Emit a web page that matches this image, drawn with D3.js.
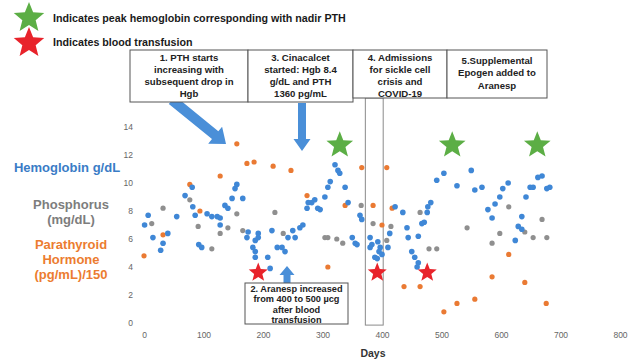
<!DOCTYPE html>
<html><head><meta charset="utf-8">
<script src="https://cdn.jsdelivr.net/npm/d3@7"></script>
<style>body{margin:0;background:#fff}svg{display:block;font-family:"Liberation Sans",Arial,sans-serif}</style>
</head><body><svg id="c" width="630" height="359"></svg>
<script>
// ---- data ----
const xTicks = [0,100,200,300,400,500,600,700,800];
const yTicks = [0,2,4,6,8,10,12,14];
const hgbDays = [1,7,15,28,32,40,55,69,81,82,86,92,97,106,114,123,128,128,136,141,148,153,156,166,175,173,192,187,183,187,187,192,208,212,215,224,232,237,242,254,250,262,267,274,276,282,287,292,296,304,309,313,321,326,329,338,343,350,355,358,363,366,380,383,380,393,397,395,388,392,400,410,413,422,435,442,444,450,455,461,459,461,467,471,476,477,482,492,504,526,550,556,568,578,585,590,598,603,612,624,629,635,635,642,649,654,662,669,677,682];
const hgbVals = [7.0,7.7,6.1,5.2,5.7,6.4,7.6,9.1,9.7,8.3,7.7,5.6,5.4,7.8,7.6,7.6,7.5,7.0,8.4,8.2,8.9,9.6,9.9,8.9,6.5,6.1,6.4,5.9,5.4,5.1,4.7,6.1,4.7,3.9,6.6,5.4,5.4,5.1,6.1,6.1,6.6,6.8,7.0,8.2,8.6,8.6,8.8,8.2,8.1,9.0,9.7,10.1,11.3,10.9,10.7,9.7,8.6,6.1,5.7,5.6,7.7,7.4,6.1,5.6,5.4,5.8,5.4,5.1,4.7,4.6,4.9,5.4,6.4,8.3,7.9,6.8,6.1,5.1,4.7,4.3,4.0,6.2,7.1,7.2,7.9,8.3,8.6,10.2,10.7,9.8,10.9,9.5,9.7,8.1,7.5,8.5,9.0,9.6,10.0,5.9,6.9,6.7,7.6,9.0,9.7,9.7,10.4,10.5,9.6,9.7];
const phosDays = [13,32,77,91,114,128,141,156,166,220,234,304,309,324,334,365,385,408,415,464,479,492,543,585,598,613,640,654,669,677];
const phosVals = [7.1,8.2,8.8,6.9,5.3,6.4,6.8,7.8,6.6,7.9,6.4,6.1,6.1,6.0,5.7,8.4,7.1,5.9,6.9,7.9,5.3,5.3,6.8,5.7,6.4,8.3,6.5,6.1,7.4,6.1];
const pthDays = [0,32,77,94,128,156,173,185,217,247,274,309,338,366,385,408,417,400,437,464,504,526,556,585,613,640,676];
const pthVals = [4.8,6.3,9.9,8.0,10.5,12.8,11.4,11.5,11.2,10.9,9.1,4.0,8.4,11.1,8.4,11.1,8.2,7.0,2.6,2.6,0.8,1.4,1.7,3.3,4.9,2.9,1.4];
const greenStarDays = [329,518,661];
const greenStarVals = [12.7,12.7,12.7];
const redStarDays = [192,392,476];
const redStarVals = [3.6,3.6,3.6];
const admissionSpan = [372,402];
const legendItems = ["Indicates peak hemoglobin corresponding with nadir PTH","Indicates blood transfusion"];
const noteTop = [
  {x0:130,x1:248,y0:50,y1:102,lines:["1. PTH starts","increasing with","subsequent drop in","Hgb"]},
  {x0:248,x1:353,y0:50,y1:102,lines:["3. Cinacalcet","started: Hgb 8.4","g/dL and PTH","1360 pg/mL"]},
  {x0:353,x1:447,y0:50,y1:98,lines:["4. Admissions","for sickle cell","crisis and","COVID-19"]},
  {x0:447,x1:547,y0:50,y1:98,lines:["5.Supplemental","Epogen added to","Aranesp"]}
];
const noteBottom = {x0:245,x1:348,y0:283,y1:324,lines:["2. Aranesp increased","from 400 to 500 \u00b5cg","after blood","transfusion"]};

// ---- chart ----
const svg = d3.select("#c");
const x = d3.scaleLinear().domain([0,800]).range([144,620]);
const y = d3.scaleLinear().domain([0,14]).range([323,127]);
const BLUE="#3f87d6", ORANGE="#ea7a33", GRAY="#8f8f8f", GREEN="#5cae45", RED="#e8232b";

function starPath(cx,cy,R,r){
  let p=[];
  for(let i=0;i<10;i++){const a=-Math.PI/2+i*Math.PI/5;const rr=i%2?r:R;p.push([cx+rr*Math.cos(a),cy+rr*Math.sin(a)]);}
  return "M"+p.map(d=>d.join(",")).join("L")+"Z";
}
function arrowPath(x1,y1,x2,y2,sw,hw,hl){
  const dx=x2-x1,dy=y2-y1,L=Math.hypot(dx,dy),ux=dx/L,uy=dy/L,nx=-uy,ny=ux;
  const bx=x2-ux*hl,by=y2-uy*hl;
  const pts=[[x1+nx*sw/2,y1+ny*sw/2],[bx+nx*sw/2,by+ny*sw/2],[bx+nx*hw/2,by+ny*hw/2],[x2,y2],[bx-nx*hw/2,by-ny*hw/2],[bx-nx*sw/2,by-ny*sw/2],[x1-nx*sw/2,y1-ny*sw/2]];
  return "M"+pts.map(d=>d.join(",")).join("L")+"Z";
}

// axes (labels only)
const xa = svg.append("g").attr("transform","translate(0,332)")
  .call(d3.axisBottom(x).tickValues(xTicks).tickSize(0).tickFormat(d3.format("d")));
xa.select(".domain").remove();
xa.selectAll("text").attr("fill","#666").attr("font-size","8.5px").attr("dy","0.3em");
const ya = svg.append("g").attr("transform","translate(136,0)")
  .call(d3.axisLeft(y).tickValues(yTicks).tickSize(0));
ya.select(".domain").remove();
ya.selectAll("text").attr("fill","#666").attr("font-size","8.5px");

svg.append("text").attr("x",373).attr("y",357).attr("text-anchor","middle")
  .attr("font-weight","bold").attr("font-size","10.5px").attr("fill","#333").text("Days");

// y titles
const ttl = [
  {t:"Hemoglobin g/dL",y:172,c:"#3a7cc6"},
  {t:"Phosphorus",y:209,c:"#7d7d7d"},{t:"(mg/dL)",y:224,c:"#7d7d7d"},
  {t:"Parathyroid",y:249,c:"#ec7c30"},{t:"Hormone",y:264,c:"#ec7c30"},{t:"(pg/mL)/150",y:279,c:"#ec7c30"}
];
svg.selectAll("text.yt").data(ttl).enter().append("text").attr("class","yt")
  .attr("x",d=>d.t.startsWith("Hemo")?67:71).attr("y",d=>d.y).attr("text-anchor","middle")
  .attr("font-weight","bold").attr("font-size","13px").attr("fill",d=>d.c).text(d=>d.t);

// admission rectangle
svg.append("rect").attr("x",x(admissionSpan[0])).attr("y",98)
  .attr("width",x(admissionSpan[1])-x(admissionSpan[0])).attr("height",y(-0.15)-98)
  .attr("fill","none").attr("stroke","#8a8a8a").attr("stroke-width",1);

// points
function pts(days,vals,col,r){
  svg.append("g").selectAll("circle").data(days.map((d,i)=>[d,vals[i]])).enter().append("circle")
    .attr("cx",d=>x(d[0])).attr("cy",d=>y(d[1])).attr("r",r).attr("fill",col);
}
pts(phosDays,phosVals,GRAY,2.6);
pts(pthDays,pthVals,ORANGE,2.6);
pts(hgbDays,hgbVals,BLUE,2.8);

// stars
svg.append("g").selectAll("path").data(greenStarDays.map((d,i)=>[d,greenStarVals[i]])).enter().append("path")
  .attr("d",d=>starPath(x(d[0]),y(d[1]),14,6)).attr("fill",GREEN);
svg.append("g").selectAll("path").data(redStarDays.map((d,i)=>[d,redStarVals[i]])).enter().append("path")
  .attr("d",d=>starPath(x(d[0]),y(d[1]),10,4.3)).attr("fill",RED);

// arrows
const ARW="#4a8fd8";
svg.append("path").attr("d",arrowPath(172,100,226,144,10,22,14)).attr("fill",ARW);
svg.append("path").attr("d",arrowPath(302,103,302,151,8,17,12)).attr("fill",ARW);
svg.append("path").attr("d",arrowPath(287,283,287,266,7,15,9)).attr("fill",ARW);

// legend
svg.append("path").attr("d",starPath(29,18,16,7)).attr("fill",GREEN);
svg.append("path").attr("d",starPath(29,43,16,7)).attr("fill",RED);
svg.selectAll("text.lg").data(legendItems).enter().append("text").attr("class","lg")
  .attr("x",53).attr("y",(d,i)=>i?46:22).attr("font-weight","bold").attr("font-size","10.7px")
  .attr("fill","#1a1a1a").text(d=>d);

// note boxes
function box(b,fs,lh,first){
  svg.append("rect").attr("x",b.x0).attr("y",b.y0).attr("width",b.x1-b.x0).attr("height",b.y1-b.y0)
    .attr("fill","#fff").attr("stroke","#555").attr("stroke-width",1);
  b.lines.forEach((t,i)=>svg.append("text").attr("x",(b.x0+b.x1)/2).attr("y",b.y0+first+i*lh)
    .attr("text-anchor","middle").attr("font-weight","bold").attr("font-size",fs+"px").attr("fill","#222").text(t));
}
noteTop.forEach((b,i)=>box(b,9.6,12.3,i===3?14:10.5));
box(noteBottom,9.2,10.6,8.5);
</script></body></html>
